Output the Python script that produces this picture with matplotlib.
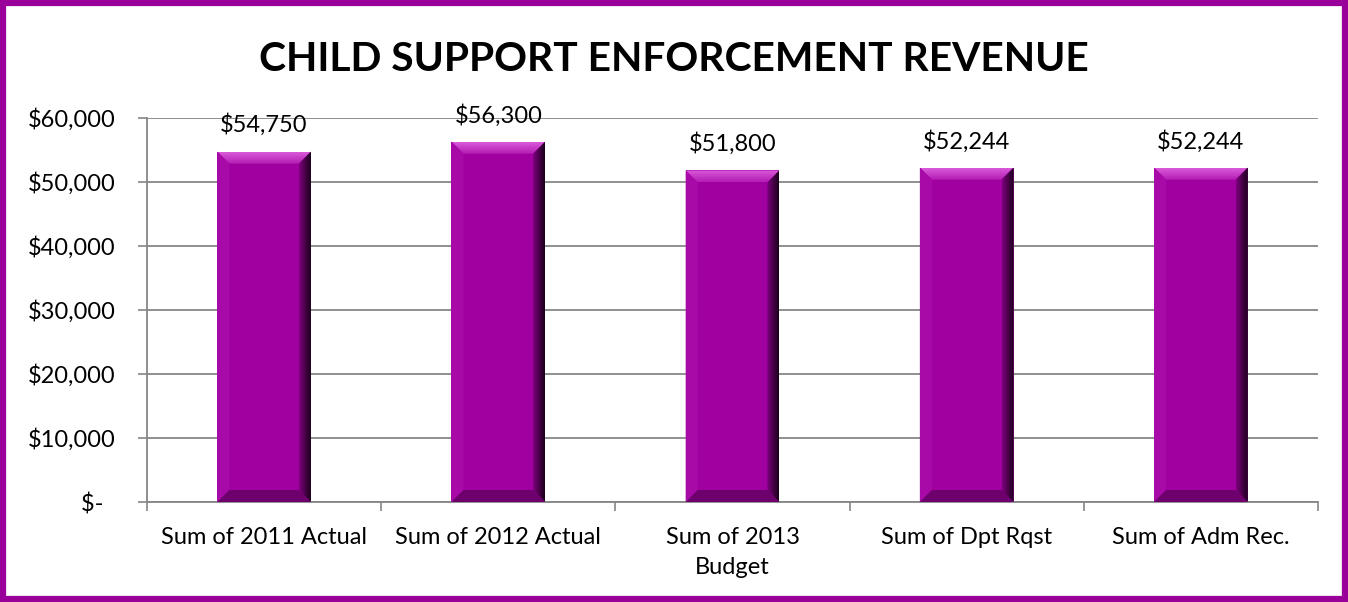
import matplotlib
matplotlib.use('Agg')
from matplotlib import pyplot as plt, ticker
from matplotlib.patches import Polygon, Rectangle
from matplotlib.colors import LinearSegmentedColormap
import numpy as np

categories = ['Sum of 2011 Actual', 'Sum of 2012 Actual', 'Sum of 2013\nBudget',
              'Sum of Dpt Rqst', 'Sum of Adm Rec.']
revenue = [54750, 56300, 51800, 52244, 52244]
y_ticks = [0, 10000, 20000, 30000, 40000, 50000, 60000]

PURPLE = '#a100a1'
GRAY = '#868686'


def money(v, pos=None):
    if v == 0:
        return '$-  '
    return '${:,.0f}'.format(v)


def gradient(ax, poly, c1, c2, horizontal, extent):
    cmap = LinearSegmentedColormap.from_list('g', [c1, c2])
    grad = np.linspace(0, 1, 64)
    img = grad.reshape(1, -1) if horizontal else grad.reshape(-1, 1)
    im = ax.imshow(img, cmap=cmap, extent=extent, aspect='auto',
                   origin='lower', zorder=3, interpolation='bilinear')
    im.set_clip_path(poly)


def bevel(ax, bars, px=12):
    inv = ax.transData.inverted()
    p0 = inv.transform((0, 0))
    p1 = inv.transform((px, px))
    dx, dy = p1[0] - p0[0], p1[1] - p0[1]
    for b in bars:
        x0, w, h = b.get_x(), b.get_width(), b.get_height()
        x1 = x0 + w
        top = Polygon([(x0, h), (x1, h), (x1 - dx, h - dy), (x0 + dx, h - dy)],
                      closed=True, facecolor='none', edgecolor='none', zorder=3)
        ax.add_patch(top)
        gradient(ax, top, '#b31cb3', '#d95ad9', False, (x0, x1, h - dy, h))
        right = Polygon([(x1, h), (x1, 0), (x1 - dx, dy), (x1 - dx, h - dy)],
                        closed=True, facecolor='none', edgecolor='none', zorder=3)
        ax.add_patch(right)
        gradient(ax, right, '#7d007d', '#1a001a', True, (x1 - dx, x1, 0, h))
        ax.add_patch(Polygon([(x0, 0), (x1, 0), (x1 - dx, dy), (x0 + dx, dy)],
                             closed=True, facecolor='#6e006e', edgecolor='none', zorder=3.5))
        ax.add_patch(Polygon([(x0, 0), (x0, h), (x0 + dx, h - dy), (x0 + dx, dy)],
                             closed=True, facecolor='#a80aa8', edgecolor='none', zorder=3))


def main():
    plt.rcParams['font.family'] = ['Lato', 'DejaVu Sans']
    fig = plt.figure(figsize=(13.48, 6.02), dpi=100)
    ax = fig.add_axes([147 / 1348, 1 - 502 / 602, (1318 - 147) / 1348, 384 / 602])

    x = np.arange(len(categories))
    ax.set_xlim(-0.5, len(categories) - 0.5)
    ax.set_ylim(0, 60000)
    bars = ax.bar(x, revenue, width=0.4, color=PURPLE, zorder=2)
    bevel(ax, bars)

    for xi, v in zip(x, revenue):
        ax.annotate('${:,.0f}'.format(v), (xi, v), xytext=(0, 11),
                    textcoords='offset points', ha='center', va='bottom', fontsize=17)

    ax.set_yticks(y_ticks)
    ax.yaxis.set_major_formatter(ticker.FuncFormatter(money))
    ax.set_xticks(x)
    ax.set_xticklabels(categories, fontsize=17, linespacing=1.5)
    ax.set_xticks(np.arange(-0.5, len(categories)), minor=True)
    ax.tick_params(axis='x', which='major', length=0, pad=18)
    ax.tick_params(axis='x', which='minor', length=6.5, width=1.2, color=GRAY)
    ax.tick_params(axis='y', length=6.5, width=1.2, color=GRAY, labelsize=17, pad=16)

    ax.grid(axis='y', color=GRAY, linewidth=1.3, zorder=0)
    ax.set_axisbelow(True)
    for s in ['top', 'right']:
        ax.spines[s].set_visible(False)
    for s in ['left', 'bottom']:
        ax.spines[s].set_color(GRAY)
        ax.spines[s].set_linewidth(1.3)

    fig.text(0.5, 1 - 71 / 602, 'CHILD SUPPORT ENFORCEMENT REVENUE', ha='center',
             va='baseline', fontsize=29.3, fontweight='bold')

    fig.patches.append(Rectangle((3 / 1348, 3 / 602), 1 - 6 / 1348, 1 - 6 / 602,
                                 transform=fig.transFigure, fill=False,
                                 edgecolor='#990099', linewidth=4.5))

    fig.savefig('out.png', dpi=100)


if __name__ == '__main__':
    main()
